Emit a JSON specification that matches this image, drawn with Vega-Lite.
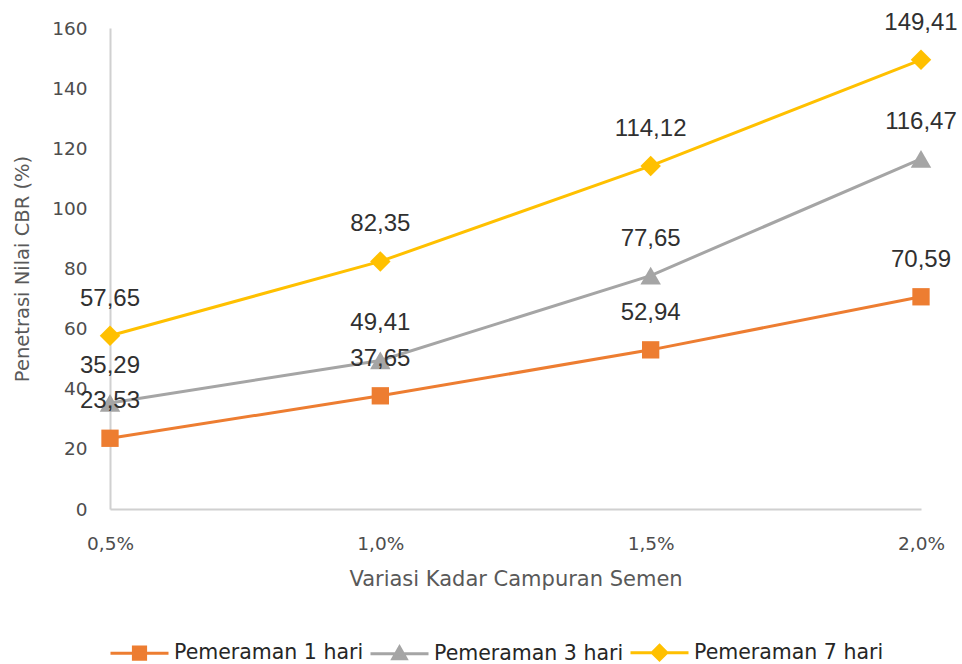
{
  "$schema": "https://vega.github.io/schema/vega-lite/v6.json",
  "width": 811,
  "height": 481,
  "autosize": {"type": "none"},
  "padding": {"left": 110, "top": 28, "right": 41, "bottom": 155},
  "background": "white",
  "config": {
    "locale": {
      "number": {"decimal": ",", "thousands": ".", "grouping": [3], "currency": ["Rp", ""]}
    },
    "view": {"stroke": null},
    "font": "DejaVu Sans"
  },
  "data": {
    "values": [
      {"kadar": "0,5%", "series": "Pemeraman 1 hari", "cbr": 23.53},
      {"kadar": "1,0%", "series": "Pemeraman 1 hari", "cbr": 37.65},
      {"kadar": "1,5%", "series": "Pemeraman 1 hari", "cbr": 52.94},
      {"kadar": "2,0%", "series": "Pemeraman 1 hari", "cbr": 70.59},
      {"kadar": "0,5%", "series": "Pemeraman 3 hari", "cbr": 35.29},
      {"kadar": "1,0%", "series": "Pemeraman 3 hari", "cbr": 49.41},
      {"kadar": "1,5%", "series": "Pemeraman 3 hari", "cbr": 77.65},
      {"kadar": "2,0%", "series": "Pemeraman 3 hari", "cbr": 116.47},
      {"kadar": "0,5%", "series": "Pemeraman 7 hari", "cbr": 57.65},
      {"kadar": "1,0%", "series": "Pemeraman 7 hari", "cbr": 82.35},
      {"kadar": "1,5%", "series": "Pemeraman 7 hari", "cbr": 114.12},
      {"kadar": "2,0%", "series": "Pemeraman 7 hari", "cbr": 149.41}
    ]
  },
  "encoding": {
    "x": {
      "field": "kadar",
      "type": "ordinal",
      "title": "Variasi Kadar Campuran Semen",
      "scale": {"type": "point", "padding": 0, "domain": ["0,5%", "1,0%", "1,5%", "2,0%"]},
      "axis": {
        "labelAngle": 0,
        "ticks": false,
        "tickSize": 0,
        "grid": false,
        "domainColor": "#d0d0d0",
        "domainWidth": 2,
        "labelColor": "#4d4d4d",
        "labelFont": "DejaVu Sans",
        "labelFontSize": 18.5,
        "labelPadding": 25,
        "titleColor": "#595959",
        "titleFont": "DejaVu Sans",
        "titleFontSize": 21,
        "titleFontWeight": "normal",
        "titlePadding": 16
      }
    },
    "y": {
      "field": "cbr",
      "type": "quantitative",
      "title": "Penetrasi Nilai CBR (%)",
      "scale": {"domain": [0, 160], "nice": false},
      "axis": {
        "values": [0, 20, 40, 60, 80, 100, 120, 140, 160],
        "ticks": false,
        "tickSize": 0,
        "grid": false,
        "domainColor": "#d0d0d0",
        "domainWidth": 2,
        "labelColor": "#4d4d4d",
        "labelFont": "DejaVu Sans",
        "labelFontSize": 18.5,
        "labelPadding": 23,
        "titleColor": "#595959",
        "titleFont": "DejaVu Sans",
        "titleFontSize": 19.5,
        "titleFontWeight": "normal",
        "titlePadding": 19
      }
    },
    "color": {
      "field": "series",
      "type": "nominal",
      "scale": {
        "domain": ["Pemeraman 1 hari", "Pemeraman 3 hari", "Pemeraman 7 hari"],
        "range": ["#ED7D31", "#A5A5A5", "#FFC000"]
      },
      "legend": {
        "title": null,
        "orient": "none",
        "direction": "horizontal",
        "legendX": -1,
        "legendY": 594,
        "symbolSize": 3364,
        "symbolStrokeWidth": 3,
        "labelOffset": 4,
        "columnPadding": 0,
        "labelFont": "DejaVu Sans",
        "labelFontSize": 20.5,
        "labelColor": "#262626",
        "labelLimit": 400,
        "encode": {
          "symbols": {
            "update": {
              "shape": {
                "signal": "datum.value === 'Pemeraman 1 hari' ? 'M-1,0H1M-0.21,-0.21H0.21V0.21H-0.21Z' : datum.value === 'Pemeraman 3 hari' ? 'M-1,0H1M0,-0.23L0.23,0.17H-0.23Z' : 'M-1,0H1M0,-0.25L0.25,0L0,0.25L-0.25,0Z'"
              },
              "size": {"value": 3364},
              "fill": {"scale": "color", "field": "value"},
              "stroke": {"scale": "color", "field": "value"},
              "strokeWidth": {"value": 3},
              "opacity": {"value": 1},
              "fillOpacity": {"value": 1}
            }
          }
        }
      }
    }
  },
  "layer": [
    {
      "mark": {"type": "line", "strokeWidth": 3}
    },
    {
      "mark": {"type": "point", "filled": true, "opacity": 1},
      "encoding": {
        "shape": {
          "condition": [
            {"test": "datum.series === 'Pemeraman 1 hari'", "value": "square"},
            {"test": "datum.series === 'Pemeraman 3 hari'", "value": "triangle-up"}
          ],
          "value": "diamond"
        },
        "size": {
          "condition": {"test": "datum.series === 'Pemeraman 1 hari'", "value": 300},
          "value": 420
        }
      }
    },
    {
      "mark": {"type": "text", "dy": -37, "font": "Liberation Sans", "fontSize": 24, "baseline": "middle", "align": "center"},
      "encoding": {
        "text": {"field": "cbr", "type": "quantitative", "format": ".2f"},
        "color": {"value": "#303030"}
      }
    }
  ]
}
